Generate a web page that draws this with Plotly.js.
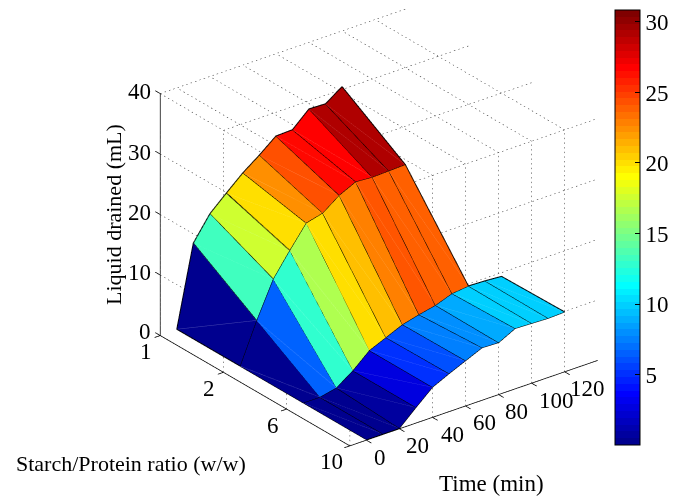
<!DOCTYPE html>
<html><head><meta charset="utf-8">
<script src="https://cdn.plot.ly/plotly-3.0.1.min.js"></script>
<style>html,body{margin:0;padding:0;background:#fff}</style></head>
<body><div id="chart" style="width:681px;height:496px"></div>
<script>
// ---- data ----
const times = [0,10,20,30,40,50,60,70,80,90,100,110,120];
const ratioPos = [1,2,3,4];
const ratioLabels = ['1','2','6','10'];
const ratio1  = [0.1,13.4,17.3,19.8,22.2,24.2,26.4,26.5,29.0,28.9,30.8,null,null];
const ratio2  = [0.1,6.7,12.6,16.4,20.0,20.7,22.7,24.0,23.8,23.9,24.0,null,null];
const ratio6  = [0.1,0.1,0.7,2.6,5.0,6.2,7.4,8.1,8.7,9.7,10.0,9.9,9.7];
const ratio10 = [0.1,0.1,0.1,2.6,5.0,6.3,7.5,8.7,8.6,10.0,9.9,9.8,9.9];
const rows = [ratio1,ratio2,ratio6,ratio10];
const xTicks = [0,20,40,60,80,100,120];
const zTicks = [0,10,20,30,40];
const cbTicks = [5,10,15,20,25,30];
const xLim=[-10,140], yLim=[1,4], zLim=[0,40];
const cLim=[0,30.85];

// MATLAB jet(64)
function jetAt(i){
  const x=(i+1)/64, cl=v=>Math.max(0,Math.min(1,v));
  return [cl(1.5-Math.abs(4*x-3)),cl(1.5-Math.abs(4*x-2)),cl(1.5-Math.abs(4*x-1))];
}
const css=(c,w)=>`rgb(${c.map(v=>Math.round(255*(v+(1-v)*w))).join(',')})`;
function jet64(){
  const s=[];
  for(let i=0;i<64;i++){const c=css(jetAt(i),0);s.push([i/64,c]);s.push([(i+1)/64,c]);}
  return s;
}
// mesh
const mx=[],my=[],mz=[],I=[],J=[],K=[],cellC=[],diagonals=[];
const id=(r,c)=>r*times.length+c;
rows.forEach((row,r)=>row.forEach((v,c)=>{mx.push(times[c]);my.push(ratioPos[r]);mz.push(v===null?0:v);}));
for(let r=0;r<rows.length-1;r++)for(let c=0;c<times.length-1;c++){
  const q=[rows[r][c],rows[r][c+1],rows[r+1][c],rows[r+1][c+1]];
  if(q.some(v=>v===null))continue;
  I.push(id(r,c),id(r,c));J.push(id(r,c+1),id(r+1,c+1));K.push(id(r+1,c+1),id(r+1,c));
  cellC.push(rows[r][c],rows[r][c]);
  diagonals.push({v:rows[r][c],seg:[[times[c],ratioPos[r],rows[r][c]],[times[c+1],ratioPos[r+1],rows[r+1][c+1]]]});
}
const cbTop=10,cbBottom=445;
const traces=[{type:'mesh3d',x:mx,y:my,z:mz,i:I,j:J,k:K,intensity:cellC,intensitymode:'cell',
  colorscale:jet64(),cmin:cLim[0],cmax:cLim[1],flatshading:true,hoverinfo:'skip',
  lighting:{ambient:1,diffuse:0,specular:0,roughness:1,fresnel:0},
  colorbar:{thicknessmode:'pixels',thickness:25,lenmode:'pixels',len:cbBottom-cbTop,x:615/681,xanchor:'left',
    y:1-cbTop/496,yanchor:'top',tickvals:cbTicks,ticks:'inside',ticklen:5,tickcolor:'#000',outlinewidth:1,outlinecolor:'#000',xpad:0,ypad:0,
    tickfont:{family:'Liberation Serif',size:23,color:'#000'}}}];
// helper for polylines
function lines(segs,style){
  const x=[],y=[],z=[];
  segs.forEach(s=>{s.forEach(p=>{x.push(p[0]);y.push(p[1]);z.push(p[2]);});x.push(null);y.push(null);z.push(null);});
  traces.push({type:'scatter3d',mode:'lines',x,y,z,line:style,hoverinfo:'skip',showlegend:false,connectgaps:false});
}
// faint quad diagonals (a lighter tint of each cell's colour), then surface edges
diagonals.forEach(d=>{
  const i=Math.min(63,Math.floor((d.v-cLim[0])/(cLim[1]-cLim[0])*64));
  lines([d.seg],{color:css(jetAt(i),0.28),width:1});
});
const edges=[];
rows.forEach((row,r)=>{const s=[];row.forEach((v,c)=>{if(v!==null)s.push([times[c],ratioPos[r],v]);});edges.push(s);});
times.forEach((t,c)=>{const s=[];rows.forEach((row,r)=>{if(row[c]!==null)s.push([t,ratioPos[r],row[c]]);});edges.push(s);});
lines(edges,{color:'#000',width:2});
// dotted grid on walls and ceiling: a line is cut into short pieces
const [x0,x1]=xLim,[y0,y1]=yLim,[z0,z1]=zLim;
const pxPer=[1.74,73,6.03], dotGap=4.6, dotLen=1.4;
function dotted(a,b){
  const len=Math.hypot((b[0]-a[0])*pxPer[0],(b[1]-a[1])*pxPer[1],(b[2]-a[2])*pxPer[2]);
  const n=Math.round(len/dotGap),out=[],f=dotLen/len;
  for(let i=0;i<=n;i++){
    const t=i/n;
    out.push([[0,1,2].map(k=>a[k]+(b[k]-a[k])*t),[0,1,2].map(k=>a[k]+(b[k]-a[k])*Math.min(1,t+f))]);
  }
  return out;
}
let grid=[];
const addDots=(a,b)=>{grid=grid.concat(dotted(a,b));};
zTicks.forEach(z=>{if(z>z0){addDots([x0,y0,z],[x0,y1,z]);addDots([x0,y1,z],[x1,y1,z]);}});
ratioPos.forEach(y=>{addDots([x0,y,z0],[x0,y,z1]);addDots([x0,y,z1],[x1,y,z1]);});
xTicks.forEach(x=>{addDots([x,y1,z0],[x,y1,z1]);addDots([x,y1,z1],[x,y0,z1]);});
lines(grid,{color:'#222',width:1});
// axis lines and ticks
const ax=[[[x0,y0,z0],[x0,y1,z0]],[[x0,y1,z0],[x1,y1,z0]],[[x0,y0,z0],[x0,y0,z1]]];
xTicks.forEach(x=>ax.push([[x,y1,z0],[x,y1+0.08,z0]]));
ratioPos.forEach(y=>ax.push([[x0,y,z0],[x0-3.4,y,z0]]));
zTicks.forEach(z=>ax.push([[x0,y0,z],[x0,y0-0.08,z]]));
lines(ax,{color:'#000',width:1.5});

const font={family:'Liberation Serif',size:23,color:'#000'};
const tfont={...font,size:22};
const xLabelShift=[14,18,20,19,18,25,23];
const yLabelShift=[-14,-14,-14,-18];
const annos=[];
xTicks.forEach((x,i)=>annos.push({x,y:y1,z:z0,text:String(x),showarrow:false,font,xshift:xLabelShift[i],yshift:-17}));
ratioPos.forEach((y,i)=>annos.push({x:x0,y,z:z0,text:ratioLabels[i],showarrow:false,font,xshift:yLabelShift[i],yshift:-16}));
zTicks.forEach(z=>annos.push({x:x0,y:y0,z,text:String(z),showarrow:false,font,xanchor:'right',xshift:-7,yshift:z===0?4:(z===10?3:2)}));

const pad={x:[-15,145],y:[0.9,4.1],z:[-2,42]};
const hidden={showgrid:false,zeroline:false,showline:false,showticklabels:false,ticks:'',showbackground:false,showspikes:false,title:{text:''}};
const R=3;
const S=1.47;
const cbY=v=>1-(cbBottom-(v-cLim[0])/(cLim[1]-cLim[0])*(cbBottom-cbTop))/496;
const layout={width:681,height:496,margin:{l:0,r:0,t:0,b:0},paper_bgcolor:'#fff',showlegend:false,
  scene:{domain:{x:[77/681,1],y:[42/496,1]},
    camera:{eye:{x:0.545*R,y:-0.708*R,z:-0.4475*R},center:{x:0,y:0,z:0},up:{x:0,y:0,z:1},projection:{type:'orthographic'}},
    aspectmode:'manual',aspectratio:{x:S,y:0.9936*S,z:0.892*S},
    xaxis:{...hidden,range:pad.x,tickvals:xTicks},
    yaxis:{...hidden,range:pad.y,tickvals:ratioPos,ticktext:ratioLabels},
    zaxis:{...hidden,range:pad.z,tickvals:zTicks},
    annotations:annos},
  shapes:cbTicks.map(v=>({type:'line',xref:'paper',yref:'paper',x0:615/681,x1:620/681,y0:cbY(v),y1:cbY(v),line:{color:'#000',width:1},layer:'above'})),
  annotations:[
   {xref:'paper',yref:'paper',x:491/681,y:1-483/496,xanchor:'center',yanchor:'middle',text:'Time (min)',showarrow:false,font},
   {xref:'paper',yref:'paper',x:131/681,y:1-463/496,xanchor:'center',yanchor:'middle',text:'Starch/Protein ratio (w/w)',showarrow:false,font:tfont},
   {xref:'paper',yref:'paper',x:113/681,y:1-215/496,xanchor:'center',yanchor:'middle',text:'Liquid drained (mL)',textangle:-90,showarrow:false,font:tfont}
  ]};
Plotly.newPlot('chart',traces,layout,{displayModeBar:false});
</script></body></html>
